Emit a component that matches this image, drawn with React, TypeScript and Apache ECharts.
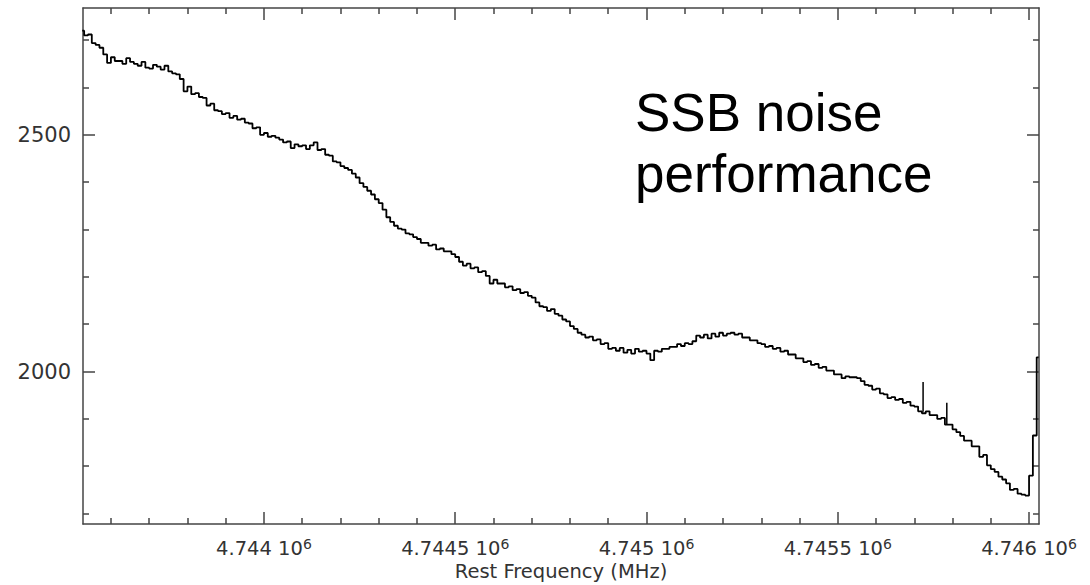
import React, { useEffect, useRef } from "react";
import * as echarts from "echarts";

// Channel grid of the spectrum (MHz)
const START_FREQ = 4743525;
const CHANNEL_STEP = 10;

// Spectrum values, one per channel
const spectrum: number[] = [
  2720, 2710, 2712, 2694, 2690, 2684, 2670, 2652, 2664, 2656,
  2656, 2650, 2662, 2654, 2650, 2646, 2654, 2642, 2640, 2648,
  2644, 2638, 2646, 2634, 2630, 2628, 2618, 2592, 2602, 2586,
  2588, 2580, 2578, 2562, 2566, 2552, 2550, 2544, 2546, 2536,
  2540, 2532, 2534, 2526, 2524, 2514, 2516, 2500, 2504, 2496,
  2498, 2494, 2490, 2484, 2486, 2472, 2480, 2476, 2478, 2470,
  2478, 2484, 2468, 2470, 2458, 2456, 2444, 2442, 2434, 2430,
  2426, 2418, 2410, 2398, 2390, 2382, 2374, 2364, 2356, 2342,
  2326, 2316, 2308, 2302, 2300, 2292, 2290, 2284, 2280, 2272,
  2272, 2266, 2268, 2258, 2260, 2254, 2254, 2248, 2242, 2232,
  2224, 2228, 2218, 2220, 2210, 2212, 2202, 2186, 2194, 2186,
  2186, 2178, 2180, 2172, 2174, 2166, 2168, 2160, 2156, 2146,
  2138, 2136, 2128, 2132, 2122, 2118, 2110, 2106, 2096, 2090,
  2082, 2078, 2072, 2074, 2066, 2068, 2058, 2060, 2048, 2050,
  2044, 2050, 2040, 2046, 2038, 2048, 2042, 2044, 2038, 2024,
  2044, 2042, 2048, 2048, 2052, 2052, 2058, 2054, 2060, 2058,
  2064, 2076, 2072, 2078, 2070, 2080, 2074, 2082, 2076, 2080,
  2082, 2078, 2080, 2072, 2072, 2066, 2066, 2060, 2058, 2052,
  2054, 2048, 2050, 2042, 2044, 2036, 2036, 2028, 2028, 2020,
  2022, 2014, 2016, 2008, 2010, 2002, 2002, 1994, 1994, 1986,
  1990, 1988, 1988, 1986, 1980, 1972, 1970, 1962, 1964, 1954,
  1952, 1944, 1946, 1940, 1942, 1934, 1936, 1928, 1926, 1916,
  1912, 1916, 1908, 1908, 1900, 1902, 1888, 1888, 1878, 1872,
  1864, 1854, 1854, 1842, 1842, 1820, 1824, 1802, 1794, 1788,
  1778, 1772, 1764, 1750, 1752, 1742, 1740, 1738, 1780, 1865,
  2030,
];

// Narrow spurious spikes
const spikeFreqs: number[] = [4745723, 4745785];
const spikeBases: number[] = [1915, 1888];
const spikeTops: number[] = [1978, 1934];

// Axis ranges and ticks
const X_MIN = 4743527;
const X_MAX = 4746026;
const Y_MIN = 1678;
const Y_MAX = 2768;
const xMajorTicks: number[] = [4744000, 4744500, 4745000, 4745500, 4746000];
const xMinorTicks: number[] = [
  4743600, 4743700, 4743800, 4743900,
  4744100, 4744200, 4744300, 4744400,
  4744600, 4744700, 4744800, 4744900,
  4745100, 4745200, 4745300, 4745400,
  4745600, 4745700, 4745800, 4745900,
];
const yMajorTicks: number[] = [2000, 2500];
const yMinorTicks: number[] = [1700, 1800, 1900, 2100, 2200, 2300, 2400, 2600, 2700];

const AXIS_COLOR = "#444";
const TEXT_COLOR = "#333";
const FONT = "DejaVu Sans";

export default function App() {
  const ref = useRef<HTMLDivElement>(null);

  useEffect(() => {
    if (!ref.current) return;
    const chart = echarts.init(ref.current, null, { renderer: "svg" });

    const lineData = spectrum.map((v, i) => [START_FREQ + i * CHANNEL_STEP, v]);

    const axisLine = { show: true, onZero: false, lineStyle: { color: AXIS_COLOR, width: 1.5 } };
    const noLine = { show: false, onZero: false };
    const tickStyle = { color: AXIS_COLOR, width: 1.5 };
    const gridBox = { left: 83, right: 51, top: 8, bottom: 61, containLabel: false, outerBoundsMode: "none" };

    const xAxisDef = (gridIndex: number, position: string, major: boolean, extra: any = {}) => ({
      type: "value",
      gridIndex,
      position,
      offset: 0,
      min: X_MIN,
      max: X_MAX,
      splitLine: { show: false },
      axisLine: major ? axisLine : noLine,
      axisTick: {
        show: true,
        inside: true,
        length: major ? 12 : 6,
        lineStyle: tickStyle,
        customValues: major ? xMajorTicks : xMinorTicks,
      },
      axisLabel: { show: false },
      ...extra,
    });
    const yAxisDef = (gridIndex: number, position: string, major: boolean, extra: any = {}) => ({
      type: "value",
      gridIndex,
      position,
      offset: 0,
      min: Y_MIN,
      max: Y_MAX,
      splitLine: { show: false },
      axisLine: major ? axisLine : noLine,
      axisTick: {
        show: true,
        inside: true,
        length: major ? 12 : 6,
        lineStyle: tickStyle,
        customValues: major ? yMajorTicks : yMinorTicks,
      },
      axisLabel: { show: false },
      ...extra,
    });

    const spikeSeries = spikeFreqs.map((f, i) => ({
      type: "line",
      xAxisIndex: 0,
      yAxisIndex: 0,
      data: [
        [f, spikeBases[i]],
        [f, spikeTops[i]],
      ],
      showSymbol: false,
      silent: true,
      lineStyle: { color: "#000", width: 1.5 },
    }));

    chart.setOption({
      animation: false,
      backgroundColor: "#fff",
      title: {
        text: "SSB noise\nperformance",
        left: 635,
        top: 82,
        padding: 0,
        textStyle: {
          fontFamily: "Liberation Sans, Arial, sans-serif",
          fontSize: 53,
          fontWeight: "normal",
          color: "#000",
          lineHeight: 61,
        },
      },
      grid: [gridBox, gridBox],
      xAxis: [
        xAxisDef(0, "bottom", true, {
          axisLabel: {
            show: true,
            customValues: xMajorTicks,
            margin: 13,
            formatter: (v: number) => `{a|${v / 1e6} 10}{s|6}`,
            rich: {
              a: { fontFamily: FONT, fontSize: 19.5, color: TEXT_COLOR, lineHeight: 22 },
              s: { fontFamily: FONT, fontSize: 14, color: TEXT_COLOR, lineHeight: 6, verticalAlign: "top" },
            },
          },
          name: "Rest Frequency (MHz)",
          nameLocation: "middle",
          nameGap: 38,
          nameMoveOverlap: false,
          nameTextStyle: { fontFamily: FONT, fontSize: 19.5, color: TEXT_COLOR, lineHeight: 18 },
        }),
        xAxisDef(0, "top", true),
        xAxisDef(1, "bottom", false),
        xAxisDef(1, "top", false),
      ],
      yAxis: [
        yAxisDef(0, "left", true, {
          axisLabel: {
            show: true,
            customValues: yMajorTicks,
            margin: 12,
            fontFamily: FONT,
            fontSize: 21,
            color: TEXT_COLOR,
            formatter: (v: number) => String(v),
          },
        }),
        yAxisDef(0, "right", true),
        yAxisDef(1, "left", false),
        yAxisDef(1, "right", false),
      ],
      series: [
        {
          type: "line",
          xAxisIndex: 0,
          yAxisIndex: 0,
          data: lineData,
          step: "middle",
          showSymbol: false,
          silent: true,
          clip: true,
          lineStyle: { color: "#000", width: 1.8 },
        },
        ...spikeSeries,
      ],
    });

    return () => chart.dispose();
  }, []);

  return (
    <div
      ref={ref}
      style={{ position: "fixed", left: 0, top: 0, width: 1090, height: 585, background: "#fff" }}
    />
  );
}
